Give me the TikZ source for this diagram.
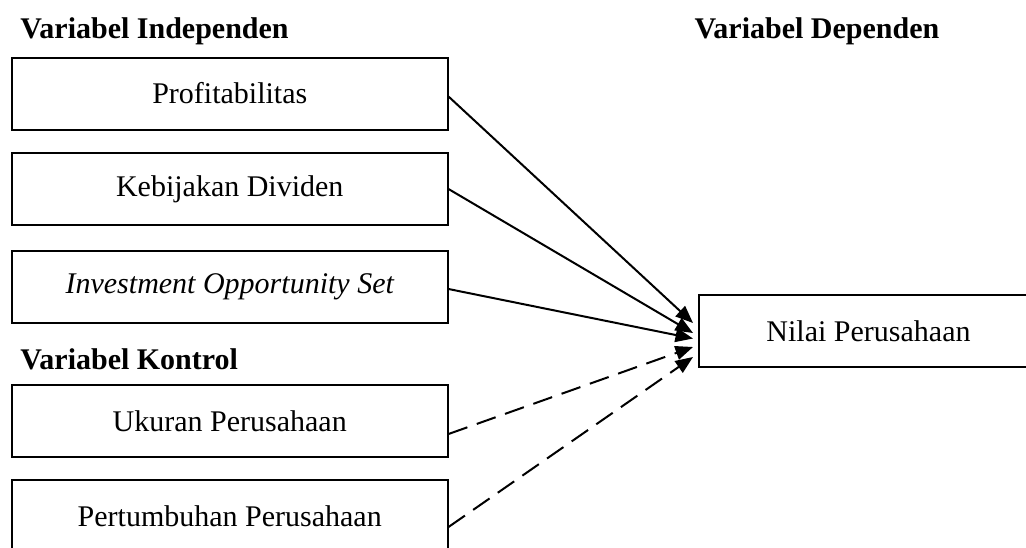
\documentclass[tikz,border=0pt]{standalone}
\usepackage{fontspec}
\setmainfont{Liberation Serif}
\usepackage{tikz}
\usetikzlibrary{arrows.meta,positioning}

\tikzset{
  varbox/.style={draw, line width=0.8pt, minimum width=174.2pt, minimum height=28.8pt, inner sep=0pt},
  judul/.style={anchor=base west, inner sep=0pt, font=\fontsize{12}{14}\selectfont\bfseries},
  panah/.style={line width=0.8pt, -{Triangle[length=7pt,width=5.6pt]}},
  putus/.style={panah, dash pattern=on 8pt off 4pt}
}

\begin{document}
\begin{tikzpicture}[x=0.4pt, y=-0.4pt, font=\fontsize{12}{14}\selectfont]
  \useasboundingbox (0,0) rectangle (1026,547);

  \node[judul] (indep) at (20,38) {Variabel Independen};
  \node[judul] (dep) at (694,38) {Variabel Dependen};
  \node[judul] (kontrol) at (20,369) {Variabel Kontrol};

  \node[varbox] (profit) at (229.75,93.5) {Profitabilitas};
  \node[varbox] (dividen) at (229.75,189) {Kebijakan Dividen};
  \node[varbox] (ios) at (229.75,287) {\itshape Investment Opportunity Set};
  \node[varbox] (ukuran) at (229.75,421) {Ukuran Perusahaan};
  \node[varbox] (tumbuh) at (229.75,516) {Pertumbuhan Perusahaan};

  \node[varbox, minimum width=135.6pt] (nilai) at (868.5,331) {Nilai Perusahaan};

  \draw[panah] ([yshift=-1.2pt]profit.east) -- ([xshift=-2pt,yshift=3.2pt]nilai.west);
  \draw[panah] (dividen.east) -- ([xshift=-2pt,yshift=-0.8pt]nilai.west);
  \draw[panah] ([yshift=-0.8pt]ios.east) -- ([xshift=-2pt,yshift=-3pt]nilai.west);
  \draw[putus] ([yshift=-5.2pt]ukuran.east) -- ([xshift=-2pt,yshift=-6.4pt]nilai.west);
  \draw[putus] ([yshift=-4.4pt]tumbuh.east) -- ([xshift=-2pt,yshift=-10.4pt]nilai.west);
\end{tikzpicture}
\end{document}
